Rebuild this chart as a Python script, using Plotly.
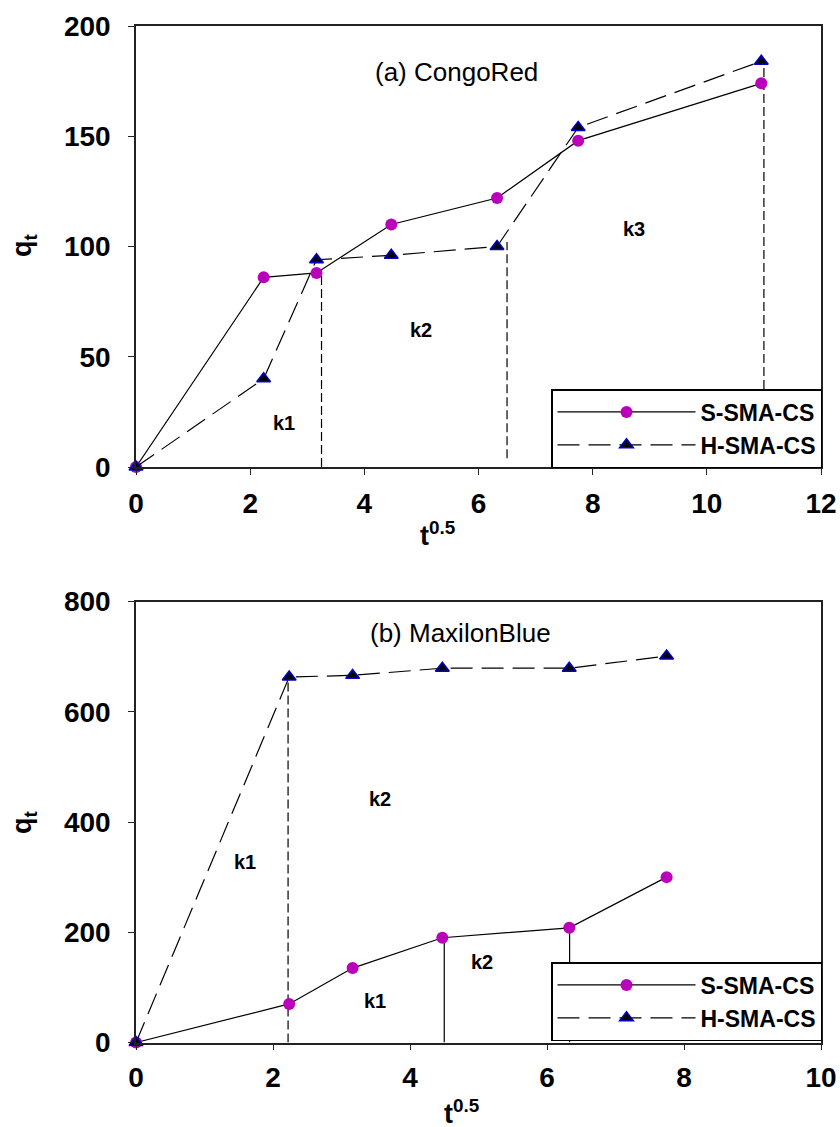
import plotly.graph_objects as go

# ---------------- data ----------------
t_sqrt_a = [0, 2.236, 3.162, 4.472, 6.325, 7.746, 10.954]
s_sma_a = [0, 86, 88, 110, 122, 148, 174]
h_sma_a = [0, 40, 94, 96, 100, 154, 184]

t_sqrt_b = [0, 2.236, 3.162, 4.472, 6.325, 7.746]
s_sma_b = [0, 70, 135, 190, 208, 300]
h_sma_b = [0, 663, 666, 679, 679, 701]

# boundary lines between kinetic stages (x, y_low, y_high)
a_vline_x = [3.25, 6.5, 11.0]
a_vline_ylo = [0, 4, 0]
a_vline_yhi = [88, 102, 184]

b_dash_vline_x = [2.22]
b_dash_vline_ylo = [0]
b_dash_vline_yhi = [663]
b_solid_vline_x = [4.5, 6.33]
b_solid_vline_ylo = [0, 0]
b_solid_vline_yhi = [190, 208]

xticks_a = [0, 2, 4, 6, 8, 10, 12]
yticks_a = [0, 50, 100, 150, 200]
xticks_b = [0, 2, 4, 6, 8, 10]
yticks_b = [0, 200, 400, 600, 800]

# ---------------- styling ----------------
FONT = "Liberation Sans"
MAGENTA = "#BB00BB"
W, H = 840, 1127
LX0, LX1 = 136, 821          # plot-area pixel edges
A_TOP, A_BOT = 26, 467
B_TOP, B_BOT = 601.5, 1042.5


def px(v):
    return v / W


def py(v):
    return (H - v) / H


fig = go.Figure()

circle_marker = dict(symbol="circle", size=12, color=MAGENTA, line=dict(width=0))
tri_marker = dict(symbol="triangle-up", size=12, color="black",
                  line=dict(color="#0000CC", width=1.5))
dash_long = "22px,9px"
dash_short = "9px,4px"

# ---- panel (a) ----
for x, y0, y1 in zip(a_vline_x, a_vline_ylo, a_vline_yhi):
    fig.add_trace(go.Scatter(x=[x, x], y=[y0, y1], mode="lines",
                             line=dict(color="black", width=1.2, dash=dash_short),
                             showlegend=False, hoverinfo="skip",
                             xaxis="x", yaxis="y"))

fig.add_trace(go.Scatter(x=t_sqrt_a, y=s_sma_a, mode="lines+markers", name="S-SMA-CS",
                         line=dict(color="black", width=1.2), marker=circle_marker,
                         cliponaxis=False, xaxis="x", yaxis="y", legend="legend"))
fig.add_trace(go.Scatter(x=t_sqrt_a, y=h_sma_a, mode="lines+markers", name="H-SMA-CS",
                         line=dict(color="black", width=1.2, dash=dash_long),
                         marker=tri_marker, cliponaxis=False,
                         xaxis="x", yaxis="y", legend="legend"))

# ---- panel (b) ----
for x, y0, y1 in zip(b_dash_vline_x, b_dash_vline_ylo, b_dash_vline_yhi):
    fig.add_trace(go.Scatter(x=[x, x], y=[y0, y1], mode="lines",
                             line=dict(color="black", width=1.2, dash=dash_short),
                             showlegend=False, hoverinfo="skip",
                             xaxis="x2", yaxis="y2"))
for x, y0, y1 in zip(b_solid_vline_x, b_solid_vline_ylo, b_solid_vline_yhi):
    fig.add_trace(go.Scatter(x=[x, x], y=[y0, y1], mode="lines",
                             line=dict(color="black", width=1.2),
                             showlegend=False, hoverinfo="skip",
                             xaxis="x2", yaxis="y2"))

fig.add_trace(go.Scatter(x=t_sqrt_b, y=s_sma_b, mode="lines+markers", name="S-SMA-CS",
                         line=dict(color="black", width=1.2), marker=circle_marker,
                         cliponaxis=False, xaxis="x2", yaxis="y2", legend="legend2"))
fig.add_trace(go.Scatter(x=t_sqrt_b, y=h_sma_b, mode="lines+markers", name="H-SMA-CS",
                         line=dict(color="black", width=1.2, dash=dash_long),
                         marker=tri_marker, cliponaxis=False,
                         xaxis="x2", yaxis="y2", legend="legend2"))

axis_common = dict(showgrid=False, zeroline=False, showline=True, mirror=True,
                   linecolor="#222222", linewidth=1.5, ticks="outside", ticklen=6,
                   tickwidth=1.2, tickcolor="#222222",
                   tickfont=dict(family=FONT, size=28, color="black", weight="bold"),
                   ticklabeloverflow="allow",
                   automargin=False)

legend_common = dict(bgcolor="white", bordercolor="black", borderwidth=1.5,
                     font=dict(family=FONT, size=23, color="black", weight="bold"),
                     itemwidth=138, xanchor="right", yanchor="bottom",
                     tracegroupgap=0)

fig.update_layout(
    width=W, height=H,
    margin=dict(l=0, r=0, t=0, b=0),
    paper_bgcolor="white", plot_bgcolor="white",
    showlegend=True,
    xaxis=dict(axis_common, domain=[px(LX0), px(LX1)], range=[0, 12],
               tickvals=xticks_a, anchor="y", ticklabelstandoff=5),
    yaxis=dict(axis_common, domain=[py(A_BOT), py(A_TOP)], range=[0, 200],
               tickvals=yticks_a, anchor="x", ticklabelstandoff=12),
    xaxis2=dict(axis_common, domain=[px(LX0), px(LX1)], range=[0, 10],
                tickvals=xticks_b, anchor="y2", ticklabelstandoff=3),
    yaxis2=dict(axis_common, domain=[py(B_BOT), py(B_TOP)], range=[0, 800],
                tickvals=yticks_b, anchor="x2", ticklabelstandoff=12),
    legend=dict(legend_common, x=px(822), y=py(468)),
    legend2=dict(legend_common, x=px(822), y=py(1041)),
)

reg = dict(family=FONT, size=26, color="black")
bold_k = dict(family=FONT, size=20, color="black", weight="bold")
bold_t = dict(family=FONT, size=27, color="black", weight="bold")

ann = [
    dict(x=5.62, y=179, xref="x", yref="y", text="(a) CongoRed", font=reg),
    dict(x=2.59, y=20, xref="x", yref="y", text="k1", font=bold_k),
    dict(x=4.99, y=62, xref="x", yref="y", text="k2", font=bold_k),
    dict(x=8.72, y=108, xref="x", yref="y", text="k3", font=bold_k),
    dict(x=4.73, y=743, xref="x2", yref="y2", text="(b) MaxilonBlue", font=reg),
    dict(x=1.59, y=328, xref="x2", yref="y2", text="k1", font=bold_k),
    dict(x=3.56, y=442, xref="x2", yref="y2", text="k2", font=bold_k),
    dict(x=3.49, y=75, xref="x2", yref="y2", text="k1", font=bold_k),
    dict(x=5.05, y=146, xref="x2", yref="y2", text="k2", font=bold_k),
    # axis titles
    dict(x=px(24), y=py(245), xref="paper", yref="paper", text="q<sub>t</sub>",
         textangle=-90, font=bold_t),
    dict(x=px(24), y=py(822), xref="paper", yref="paper", text="q<sub>t</sub>",
         textangle=-90, font=bold_t),
    dict(x=px(437), y=py(534), xref="paper", yref="paper", text="t<sup>0.5</sup>",
         font=bold_t),
    dict(x=px(461), y=py(1112), xref="paper", yref="paper", text="t<sup>0.5</sup>",
         font=bold_t),
]
for a in ann:
    a.setdefault("showarrow", False)
    a.setdefault("xanchor", "center")
    a.setdefault("yanchor", "middle")
fig.update_layout(annotations=ann)

# remove the default page margin so the figure fills the window exactly
fig.write_html("out.html", config={"displayModeBar": False},
               post_script="document.body.style.margin='0px';")
